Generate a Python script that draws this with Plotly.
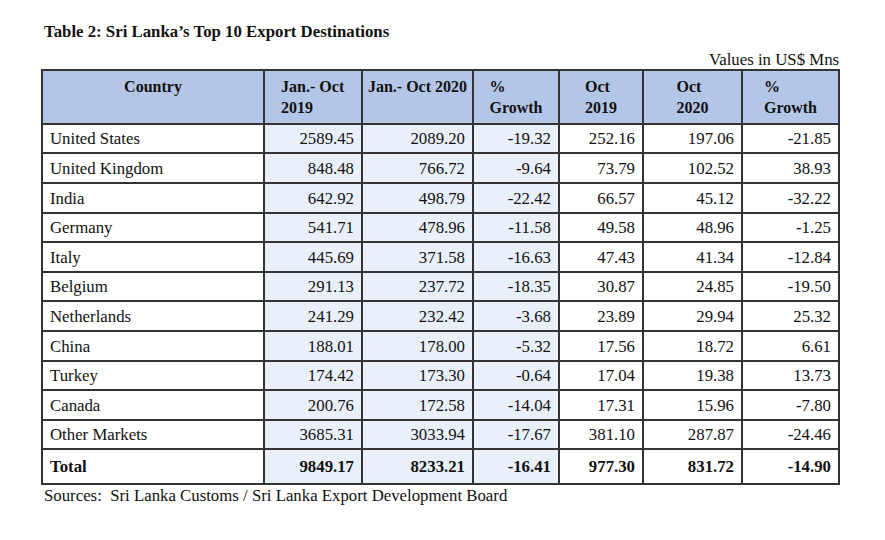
import plotly.graph_objects as go

countries = ["United States", "United Kingdom", "India", "Germany", "Italy", "Belgium",
             "Netherlands", "China", "Turkey", "Canada", "Other Markets", "Total"]
jan_oct_2019 = [2589.45, 848.48, 642.92, 541.71, 445.69, 291.13, 241.29, 188.01, 174.42, 200.76, 3685.31, 9849.17]
jan_oct_2020 = [2089.20, 766.72, 498.79, 478.96, 371.58, 237.72, 232.42, 178.00, 173.30, 172.58, 3033.94, 8233.21]
growth_ytd = [-19.32, -9.64, -22.42, -11.58, -16.63, -18.35, -3.68, -5.32, -0.64, -14.04, -17.67, -16.41]
oct_2019 = [252.16, 73.79, 66.57, 49.58, 47.43, 30.87, 23.89, 17.56, 17.04, 17.31, 381.10, 977.30]
oct_2020 = [197.06, 102.52, 45.12, 48.96, 41.34, 24.85, 29.94, 18.72, 19.38, 15.96, 287.87, 831.72]
growth_oct = [-21.85, 38.93, -32.22, -1.25, -12.84, -19.50, 25.32, 6.61, 13.73, -7.80, -24.46, -14.90]
headers = ["Country", "Jan.- Oct<br>2019", "Jan.-\u00a0Oct\u00a02020", "%<br>Growth",
           "Oct<br>2019", "Oct<br>2020", "%<br>Growth"]

def fmt(vals):
    out = [f"{v:.2f}" for v in vals]
    out[-1] = f"<b>{out[-1]}</b>"
    return out

country_txt = countries[:-1] + [f"<b>{countries[-1]}</b>"]

cols = [country_txt, fmt(jan_oct_2019), fmt(jan_oct_2020), fmt(growth_ytd),
        fmt(oct_2019), fmt(oct_2020), fmt(growth_oct)]

light = "#EAF0FA"
white = "#FFFFFF"
fills = [white, light, light, light, white, white, white]

SERIF = "Liberation Serif, Times New Roman, serif"
W, H, OFF = 885, 540, 8

def xp(X):
    return (X - OFF) / W

def yp(Y):
    return 1 - (Y - OFF) / H

fig = go.Figure(go.Table(
    domain=dict(x=[xp(42), xp(839)], y=[0, yp(70)]),
    columnwidth=[222, 98, 111, 86, 84, 99, 97],
    header=dict(
        values=[f"<b>{h}</b>" for h in headers],
        fill_color="#B4C6E7",
        line=dict(color="#333333", width=2),
        align="center",
        font=dict(family=SERIF, size=16, color="#111111"),
        height=40,
    ),
    cells=dict(
        values=cols,
        fill_color=fills,
        line=dict(color="#333333", width=2),
        align=["left"] + ["right"] * 6,
        font=dict(family=SERIF, size=16.8, color="#111111"),
        height=29.6,
    ),
))

fig.add_annotation(text="<b>Table 2: Sri Lanka’s Top 10 Export Destinations</b>",
                   xref="paper", yref="paper", x=xp(42), y=yp(31),
                   xanchor="left", yanchor="middle", showarrow=False,
                   font=dict(family=SERIF, size=16.8, color="#111111"))
fig.add_annotation(text="Values in US$ Mns",
                   xref="paper", yref="paper", x=xp(841), y=yp(59),
                   xanchor="right", yanchor="middle", showarrow=False,
                   font=dict(family=SERIF, size=16.8, color="#111111"))
fig.add_annotation(text="Sources:  Sri Lanka Customs / Sri Lanka Export Development Board",
                   xref="paper", yref="paper", x=xp(42), y=yp(495),
                   xanchor="left", yanchor="middle", showarrow=False,
                   font=dict(family=SERIF, size=16.8, color="#111111"))

fig.update_layout(width=W, height=H, margin=dict(l=0, r=0, t=0, b=0),
                  paper_bgcolor="white", plot_bgcolor="white")
fig.write_html("out.html")
